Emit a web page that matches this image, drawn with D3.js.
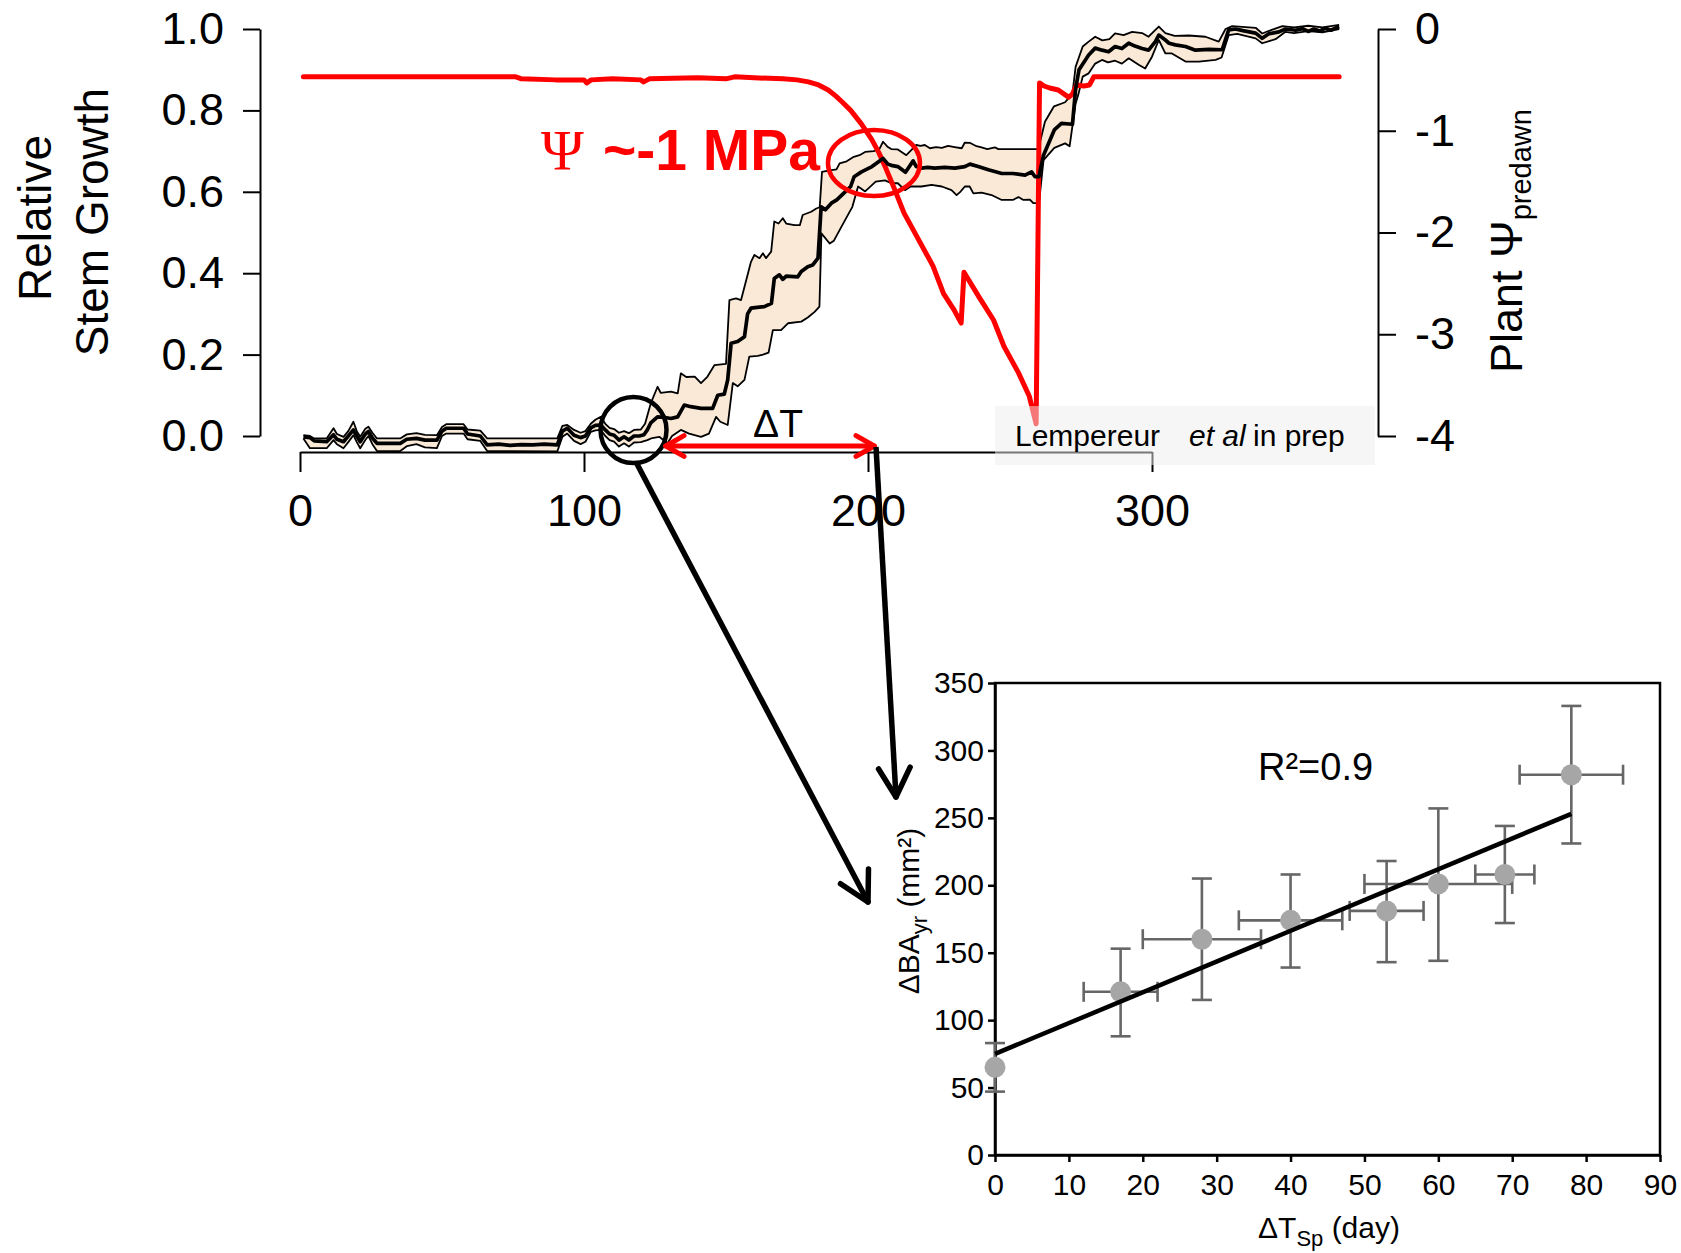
<!DOCTYPE html>
<html><head><meta charset="utf-8">
<script src="https://cdn.jsdelivr.net/npm/d3@7"></script>
<style>html,body{margin:0;padding:0;background:#fff}</style>
</head><body>
<svg id="c" width="1681" height="1253"></svg>
<script>
// ---------- DATA (top panel) ----------
const medianGrowth = [[1.2,-0.002],[3.5,-0.004],[5,-0.012],[9.4,-0.014],[11.8,0.003],[13,-0.008],[15.3,-0.014],[17,0.0],[18.8,0.015],[20,0.0],[21.2,-0.014],[23,0.005],[24.1,0.011],[25.5,-0.005],[27.1,-0.018],[31,-0.018],[35.3,-0.018],[37.6,-0.008],[41,-0.006],[44,-0.01],[48.2,-0.01],[50,0.012],[51.5,0.019],[57.6,0.019],[59,0.005],[63.5,0.0],[65.9,-0.022],[70,-0.02],[74,-0.023],[78,-0.021],[82,-0.022],[86,-0.02],[90.6,-0.022],[92.4,0.012],[94.1,0.019],[96.5,0.002],[98.8,-0.004],[100.5,0.0],[102.4,0.02],[104,0.026],[105.9,0.027],[107.5,0.015],[109,0.005],[110.6,0.002],[112.3,-0.01],[114.1,-0.002],[115.8,-0.01],[117.6,0.0],[119.5,0.0],[121.1,0.003],[122.3,0.015],[123.5,0.032],[125.9,0.047],[128,0.046],[130.6,0.043],[133,0.047],[135.3,0.076],[137.6,0.072],[141.2,0.068],[145.3,0.068],[147.1,0.1],[149.4,0.103],[150.6,0.138],[151.8,0.228],[154.1,0.232],[156.5,0.244],[157.6,0.3],[158.8,0.314],[161,0.316],[163.5,0.318],[166,0.326],[167,0.387],[168.8,0.396],[170,0.385],[171.2,0.393],[175.3,0.391],[176.5,0.404],[178.8,0.416],[180.5,0.42],[182.4,0.437],[183.5,0.563],[185,0.556],[187.1,0.572],[189,0.58],[191.4,0.596],[193.9,0.613],[195.1,0.637],[197.7,0.649],[201.4,0.662],[205.3,0.682],[207,0.668],[208.2,0.665],[210.5,0.662],[213.2,0.648],[215.9,0.676],[217,0.662],[218.8,0.658],[221,0.66],[223.5,0.658],[227,0.66],[230.6,0.658],[234.1,0.662],[235.9,0.668],[238.8,0.662],[242.4,0.654],[247.1,0.645],[251,0.645],[255.3,0.641],[257.6,0.649],[258.8,0.637],[260.2,0.637],[261.8,0.69],[265.6,0.752],[268.1,0.768],[272,0.766],[273.1,0.853],[274.3,0.9],[277.7,0.936],[280,0.953],[282.4,0.948],[284.7,0.944],[287,0.957],[289.4,0.952],[291.8,0.965],[294,0.958],[296.5,0.952],[298.8,0.948],[301.2,0.969],[302.4,0.985],[304.7,0.973],[306,0.965],[308.2,0.961],[311.8,0.957],[315.3,0.948],[320,0.95],[324.7,0.949],[327,0.998],[329.4,1.0],[332,0.996],[336.5,0.99],[338.8,0.977],[341,0.988],[344.7,0.993],[347,1.0],[350.6,0.997],[353,1.001],[355,0.994],[357,1.0],[359,0.995],[361,1.002],[363,0.997],[365.9,1.006]];

const upperGrowth = [[1.2,0.002],[3.5,0.0],[5,-0.006],[9.4,-0.006],[11.8,0.019],[13,0.005],[15.3,-0.002],[17,0.012],[18.8,0.035],[20,0.012],[21.2,-0.002],[23,0.018],[24.1,0.023],[25.5,0.008],[27.1,-0.006],[35.3,-0.006],[37.6,0.004],[41,0.007],[44,0.003],[48.2,0.002],[50,0.022],[51.5,0.029],[57.6,0.029],[59,0.016],[63.5,0.013],[65.9,-0.006],[90.6,-0.006],[92.4,0.025],[94.1,0.027],[96.5,0.015],[98.8,0.008],[100.5,0.012],[102.4,0.03],[104,0.04],[105.9,0.047],[107.5,0.03],[109,0.02],[110.6,0.017],[112.3,0.008],[114.1,0.012],[115.8,0.007],[117.6,0.015],[120,0.016],[121.5,0.03],[123.5,0.08],[125.9,0.121],[127,0.106],[130.6,0.109],[133,0.105],[134.1,0.154],[136,0.145],[139,0.146],[141.2,0.13],[143.5,0.146],[145.9,0.174],[150,0.177],[151.2,0.334],[153.5,0.338],[155.3,0.334],[158.8,0.428],[160,0.445],[161.8,0.437],[163,0.449],[164.1,0.437],[165.9,0.453],[167,0.527],[168.5,0.522],[170,0.535],[171.2,0.522],[174.1,0.518],[176,0.518],[177,0.543],[180,0.551],[181.8,0.559],[183,0.562],[183.8,0.649],[186,0.652],[188.9,0.655],[190,0.67],[192.5,0.675],[195,0.686],[197,0.69],[199,0.698],[202,0.7],[204,0.705],[205.3,0.723],[207,0.71],[208.2,0.705],[210.5,0.704],[213.5,0.69],[215.3,0.703],[217,0.715],[218.5,0.713],[220,0.715],[221.8,0.707],[224,0.71],[226,0.708],[228.2,0.713],[230.5,0.71],[233,0.707],[234.1,0.721],[236,0.72],[238.2,0.712],[240,0.709],[242,0.705],[244.7,0.709],[245.9,0.705],[260,0.705],[262.3,0.772],[265.5,0.81],[269.4,0.82],[272,0.842],[273.1,0.907],[275.6,0.957],[277.7,0.969],[280,0.981],[282.5,0.972],[285,0.975],[287,0.989],[290,0.985],[293,0.993],[296.5,0.99],[298.8,0.981],[301.2,0.998],[302.4,1.006],[304.7,0.99],[308,0.983],[313,0.984],[318.8,0.981],[323.5,0.969],[325.9,1.0],[328.2,1.007],[336.5,1.003],[338.8,0.989],[341,0.995],[345.9,1.007],[350,1.004],[355,1.008],[360,1.004],[365.9,1.01]];

const lowerGrowth = [[1.2,-0.006],[3.5,-0.03],[9.4,-0.03],[11.8,-0.01],[13,-0.02],[15.3,-0.03],[17,-0.015],[18.8,0.002],[20,-0.015],[21.2,-0.03],[23,-0.01],[24.1,0.0],[25.5,-0.02],[27.1,-0.037],[35.3,-0.037],[37.6,-0.025],[41,-0.02],[44,-0.028],[48.2,-0.03],[50,0.0],[51.5,0.006],[57.6,0.006],[59,-0.008],[63.5,-0.012],[65.9,-0.037],[90.6,-0.038],[92.4,-0.002],[94.1,0.006],[96.5,-0.012],[98.8,-0.02],[100.5,-0.014],[102.4,0.01],[104,0.014],[105.9,0.015],[107.5,0.0],[109,-0.01],[110.6,-0.014],[112.3,-0.026],[114.1,-0.018],[115.8,-0.026],[117.6,-0.016],[120,-0.015],[122.3,-0.01],[124,-0.005],[126.5,-0.002],[129.4,-0.018],[131,0.0],[134.1,0.015],[137,0.006],[141.2,-0.002],[144,0.006],[146.5,0.047],[148,0.035],[150.6,0.027],[152.4,0.13],[154.1,0.122],[156.5,0.138],[158.2,0.195],[161.2,0.197],[163,0.2],[165,0.205],[166.5,0.26],[169.4,0.26],[171.8,0.277],[176.5,0.281],[178.8,0.291],[181.2,0.305],[182.9,0.318],[183.6,0.498],[186.5,0.473],[188,0.48],[190,0.506],[192.6,0.539],[194.5,0.563],[196.5,0.613],[199,0.601],[202.7,0.625],[206,0.628],[208.2,0.621],[210.5,0.621],[213,0.604],[215,0.613],[218.8,0.613],[222.4,0.617],[226,0.613],[229.4,0.604],[231.2,0.592],[232.5,0.6],[234.1,0.613],[235.8,0.613],[237.1,0.596],[240,0.598],[243.5,0.592],[247.1,0.58],[251,0.58],[253,0.587],[254.7,0.58],[257,0.581],[258.2,0.572],[260.2,0.572],[261.8,0.678],[265.6,0.708],[269.4,0.719],[271,0.712],[273.1,0.817],[274.1,0.84],[275.6,0.883],[277.7,0.891],[280,0.915],[282.4,0.924],[284.5,0.918],[287,0.922],[289.4,0.915],[291.8,0.928],[295.3,0.912],[297.6,0.903],[300,0.932],[302.4,0.973],[304.7,0.94],[307,0.94],[311.8,0.92],[316.5,0.92],[322.4,0.924],[324.5,0.93],[327,0.985],[330,0.988],[336.5,0.977],[338.8,0.965],[343.5,0.975],[347,0.993],[350,0.99],[355,0.995],[360,0.992],[365.9,1.0]];

const psiPredawn = [[1.2,-0.47],[76,-0.47],[78,-0.49],[90,-0.5],[100,-0.5],[101,-0.53],[102.5,-0.5],[110,-0.49],[120,-0.5],[121,-0.52],[123,-0.49],[140,-0.48],[150,-0.49],[153,-0.47],[160,-0.48],[170,-0.49],[175,-0.5],[179,-0.52],[182.6,-0.55],[186,-0.6],[188.7,-0.66],[191,-0.72],[193.9,-0.8],[197.6,-0.93],[201.4,-1.09],[203.9,-1.22],[206,-1.35],[209,-1.55],[212.7,-1.81],[217.8,-2.07],[222.9,-2.33],[226.6,-2.6],[230.3,-2.76],[232.8,-2.89],[233.8,-2.39],[239,-2.63],[244.2,-2.86],[247.9,-3.12],[253,-3.38],[256.8,-3.61],[259.2,-3.88],[260.4,-0.53],[262,-0.56],[264,-0.58],[267,-0.6],[270.6,-0.67],[272,-0.64],[273.4,-0.55],[276,-0.56],[278,-0.55],[279.5,-0.47],[365.9,-0.47]];

const dayTicks = [0, 100, 200, 300];
const growthTicks = [0, 0.2, 0.4, 0.6, 0.8, 1.0];
const psiTicks = [0, -1, -2, -3, -4];
const deltaTDays = [128.8, 202.2];

// ---------- DATA (scatter panel) ----------
const dTsp   = [0, 17, 28, 40, 53, 60, 69, 78];
const dBAyr  = [65, 121, 160, 174, 181, 201, 208, 282];
const dTlo   = [0, 12, 20, 33, 48, 50, 65, 71];
const dThi   = [0, 22, 36, 47, 58, 70, 73, 85];
const dBAlo  = [47, 88, 115, 139, 143, 144, 172, 231];
const dBAhi  = [83, 153, 205, 208, 218, 257, 244, 333];
const fitX   = [0, 78];
const fitY   = [75, 253];
const scatterXTicks = [0,10,20,30,40,50,60,70,80,90];
const scatterYTicks = [0,50,100,150,200,250,300,350];

// ---------- DRAW ----------
const FONT = "'Liberation Sans', Arial, Helvetica, sans-serif";
const svg = d3.select("#c");

const x  = d3.scaleLinear().domain([0,300]).range([300,1152]);
const yG = d3.scaleLinear().domain([0,1]).range([436,29]);
const yP = d3.scaleLinear().domain([-4,0]).range([436,29]);

const lineG = d3.line().x(d=>x(d[0])).y(d=>yG(d[1]));
const lineP = d3.line().x(d=>x(d[0])).y(d=>yP(d[1]));

// band fill
const band = upperGrowth.concat(lowerGrowth.slice().reverse());
svg.append("path").attr("d", lineG(band)+"Z").attr("fill","#f9e9d6").attr("stroke","none");
// band edges
[upperGrowth, lowerGrowth].forEach(s=>{
  svg.append("path").attr("d", lineG(s)).attr("fill","none").attr("stroke","#000")
    .attr("stroke-width",1.8).attr("stroke-linejoin","round");
});
// red psi line
svg.append("path").attr("d", lineP(psiPredawn)).attr("fill","none").attr("stroke","#ff0000")
  .attr("stroke-width",5).attr("stroke-linejoin","round").attr("stroke-linecap","round");
// median
svg.append("path").attr("d", lineG(medianGrowth)).attr("fill","none").attr("stroke","#000")
  .attr("stroke-width",3.7).attr("stroke-linejoin","round");

// axes top
function styleAxis(g, fs){
  g.attr("font-family", FONT).attr("font-size", fs);
  g.selectAll("path, line").attr("stroke","#000").attr("stroke-width",2);
  g.selectAll("text").attr("fill","#000");
}
const gL = svg.append("g").attr("transform","translate(260,0)")
  .call(d3.axisLeft(yG).tickValues(growthTicks).tickFormat(d3.format(".1f")).tickSize(17).tickSizeOuter(0).tickPadding(19));
styleAxis(gL, 45);
const gR = svg.append("g").attr("transform","translate(1378,0)")
  .call(d3.axisRight(yP).tickValues(psiTicks).tickFormat(d=>String(d)).tickSize(18).tickSizeOuter(0).tickPadding(19));
styleAxis(gR, 45);
const gB = svg.append("g").attr("transform","translate(0,452)")
  .call(d3.axisBottom(x).tickValues(dayTicks).tickSize(20).tickSizeOuter(0).tickPadding(22));
styleAxis(gB, 45);

// axis titles top
svg.append("text").attr("transform","translate(51,218) rotate(-90)").attr("text-anchor","middle")
  .attr("font-family",FONT).attr("font-size",46).text("Relative");
svg.append("text").attr("transform","translate(108,222) rotate(-90)").attr("text-anchor","middle")
  .attr("font-family",FONT).attr("font-size",46).text("Stem Growth");
const rt = svg.append("text").attr("transform","translate(1522,241) rotate(-90)").attr("text-anchor","middle")
  .attr("font-family",FONT).attr("font-size",45);
rt.append("tspan").text("Plant Ψ");
rt.append("tspan").attr("font-size",29).attr("dy",9).text("predawn");

// black circle & red ellipse
svg.append("circle").attr("cx",633.5).attr("cy",430).attr("r",33).attr("fill","none")
  .attr("stroke","#000").attr("stroke-width",4.5);
svg.append("ellipse").attr("cx",x(202.1)).attr("cy",163).attr("rx",46).attr("ry",33).attr("fill","none")
  .attr("stroke","#ff0000").attr("stroke-width",4.5);

// helpers for open arrowheads
function arrowHead(g, tip, from, len, ang, color, w){
  const a = Math.atan2(from[1]-tip[1], from[0]-tip[0]);
  [ang,-ang].forEach(t=>{
    g.append("line").attr("x1",tip[0]).attr("y1",tip[1])
      .attr("x2",tip[0]+len*Math.cos(a+t)).attr("y2",tip[1]+len*Math.sin(a+t))
      .attr("stroke",color).attr("stroke-width",w).attr("stroke-linecap","round");
  });
}
// red delta-T double arrow
const dtY = 446;
const dtL = [x(deltaTDays[0]), dtY], dtR = [x(deltaTDays[1]), dtY];
svg.append("line").attr("x1",dtL[0]).attr("y1",dtY).attr("x2",dtR[0]).attr("y2",dtY)
  .attr("stroke","#ff0000").attr("stroke-width",5);
arrowHead(svg, dtL, dtR, 21, 0.52, "#ff0000", 5);
arrowHead(svg, dtR, dtL, 21, 0.52, "#ff0000", 5);
svg.append("text").attr("x",(dtL[0]+dtR[0])/2+8).attr("y",437).attr("text-anchor","middle")
  .attr("font-family",FONT).attr("font-size",39).text("ΔT");

// black pointer arrows
const a1s=[637,464], a1e=[868,902], a2s=[876,447], a2e=[896,797];
[[a1s,a1e],[a2s,a2e]].forEach(([s,e])=>{
  svg.append("line").attr("x1",s[0]).attr("y1",s[1]).attr("x2",e[0]).attr("y2",e[1])
    .attr("stroke","#000").attr("stroke-width",5.5);
  arrowHead(svg, e, s, 33, 0.5, "#000", 5.5);
});

// Psi annotation
svg.append("text").attr("x",541).attr("y",170).attr("font-family","'Liberation Serif', 'Times New Roman', serif")
  .attr("font-size",58).attr("fill","#ff0000").text("Ψ");
svg.append("text").attr("x",603).attr("y",170).attr("font-family",FONT).attr("font-weight","bold")
  .attr("font-size",57).attr("fill","#ff0000").text("~-1 MPa");

// citation box
svg.append("rect").attr("x",995).attr("y",406).attr("width",380).attr("height",59)
  .attr("fill","#eeeeee").attr("opacity",0.5);
const cit = svg.append("text").attr("y",446).attr("font-family",FONT).attr("font-size",30).attr("fill","#000");
cit.append("tspan").attr("x",1015).text("Lempereur");
cit.append("tspan").attr("x",1189).attr("font-style","italic").text("et al");
cit.append("tspan").attr("x",1253).text("in prep");

// ---------- SCATTER ----------
const sx = d3.scaleLinear().domain([0,90]).range([995,1660]);
const sy = d3.scaleLinear().domain([0,350]).range([1155,683]);

svg.append("rect").attr("x",sx(0)).attr("y",sy(350)).attr("width",sx(90)-sx(0)).attr("height",sy(0)-sy(350))
  .attr("fill","none").attr("stroke","#000").attr("stroke-width",2.5);
const sL = svg.append("g").attr("transform",`translate(${sx(0)},0)`)
  .call(d3.axisLeft(sy).tickValues(scatterYTicks).tickSize(7).tickSizeOuter(0).tickPadding(4));
styleAxis(sL, 30); sL.selectAll("path,line").attr("stroke-width",2.5);
const sB = svg.append("g").attr("transform",`translate(0,${sy(0)})`)
  .call(d3.axisBottom(sx).tickValues(scatterXTicks).tickSize(7).tickSizeOuter(0).tickPadding(12));
styleAxis(sB, 30); sB.selectAll("path,line").attr("stroke-width",2.5);

// error bars
const EB = "#666666", cap = 10;
dTsp.forEach((xv,i)=>{
  const cx = sx(xv), cy = sy(dBAyr[i]);
  const g = svg.append("g").attr("stroke",EB).attr("stroke-width",2.6);
  g.append("line").attr("x1",cx).attr("x2",cx).attr("y1",sy(dBAlo[i])).attr("y2",sy(dBAhi[i]));
  g.append("line").attr("x1",cx-cap).attr("x2",cx+cap).attr("y1",sy(dBAlo[i])).attr("y2",sy(dBAlo[i]));
  g.append("line").attr("x1",cx-cap).attr("x2",cx+cap).attr("y1",sy(dBAhi[i])).attr("y2",sy(dBAhi[i]));
  if (dThi[i] > dTlo[i]) {
    g.append("line").attr("x1",sx(dTlo[i])).attr("x2",sx(dThi[i])).attr("y1",cy).attr("y2",cy);
    g.append("line").attr("x1",sx(dTlo[i])).attr("x2",sx(dTlo[i])).attr("y1",cy-cap).attr("y2",cy+cap);
    g.append("line").attr("x1",sx(dThi[i])).attr("x2",sx(dThi[i])).attr("y1",cy-cap).attr("y2",cy+cap);
  }
});
// points
svg.append("g").selectAll("circle").data(dTsp).join("circle")
  .attr("cx",d=>sx(d)).attr("cy",(d,i)=>sy(dBAyr[i])).attr("r",10.5).attr("fill","#a6a6a6");
// fit line
svg.append("line").attr("x1",sx(fitX[0])).attr("y1",sy(fitY[0])).attr("x2",sx(fitX[1])).attr("y2",sy(fitY[1]))
  .attr("stroke","#000").attr("stroke-width",4.5);

// R2 label
svg.append("text").attr("x",1258).attr("y",780).attr("font-family",FONT).attr("font-size",38).text("R²=0.9");

// scatter axis titles
const xt = svg.append("text").attr("x",1329).attr("y",1238).attr("text-anchor","middle")
  .attr("font-family",FONT).attr("font-size",30);
xt.append("tspan").text("ΔT");
xt.append("tspan").attr("font-size",22).attr("dy",8).text("Sp");
xt.append("tspan").attr("dy",-8).text(" (day)");
const yt = svg.append("text").attr("transform","translate(919,911) rotate(-90)").attr("text-anchor","middle")
  .attr("font-family",FONT).attr("font-size",30);
yt.append("tspan").text("ΔBA");
yt.append("tspan").attr("font-size",22).attr("dy",8).text("yr");
yt.append("tspan").attr("dy",-8).text(" (mm²)");
</script>
</body></html>
